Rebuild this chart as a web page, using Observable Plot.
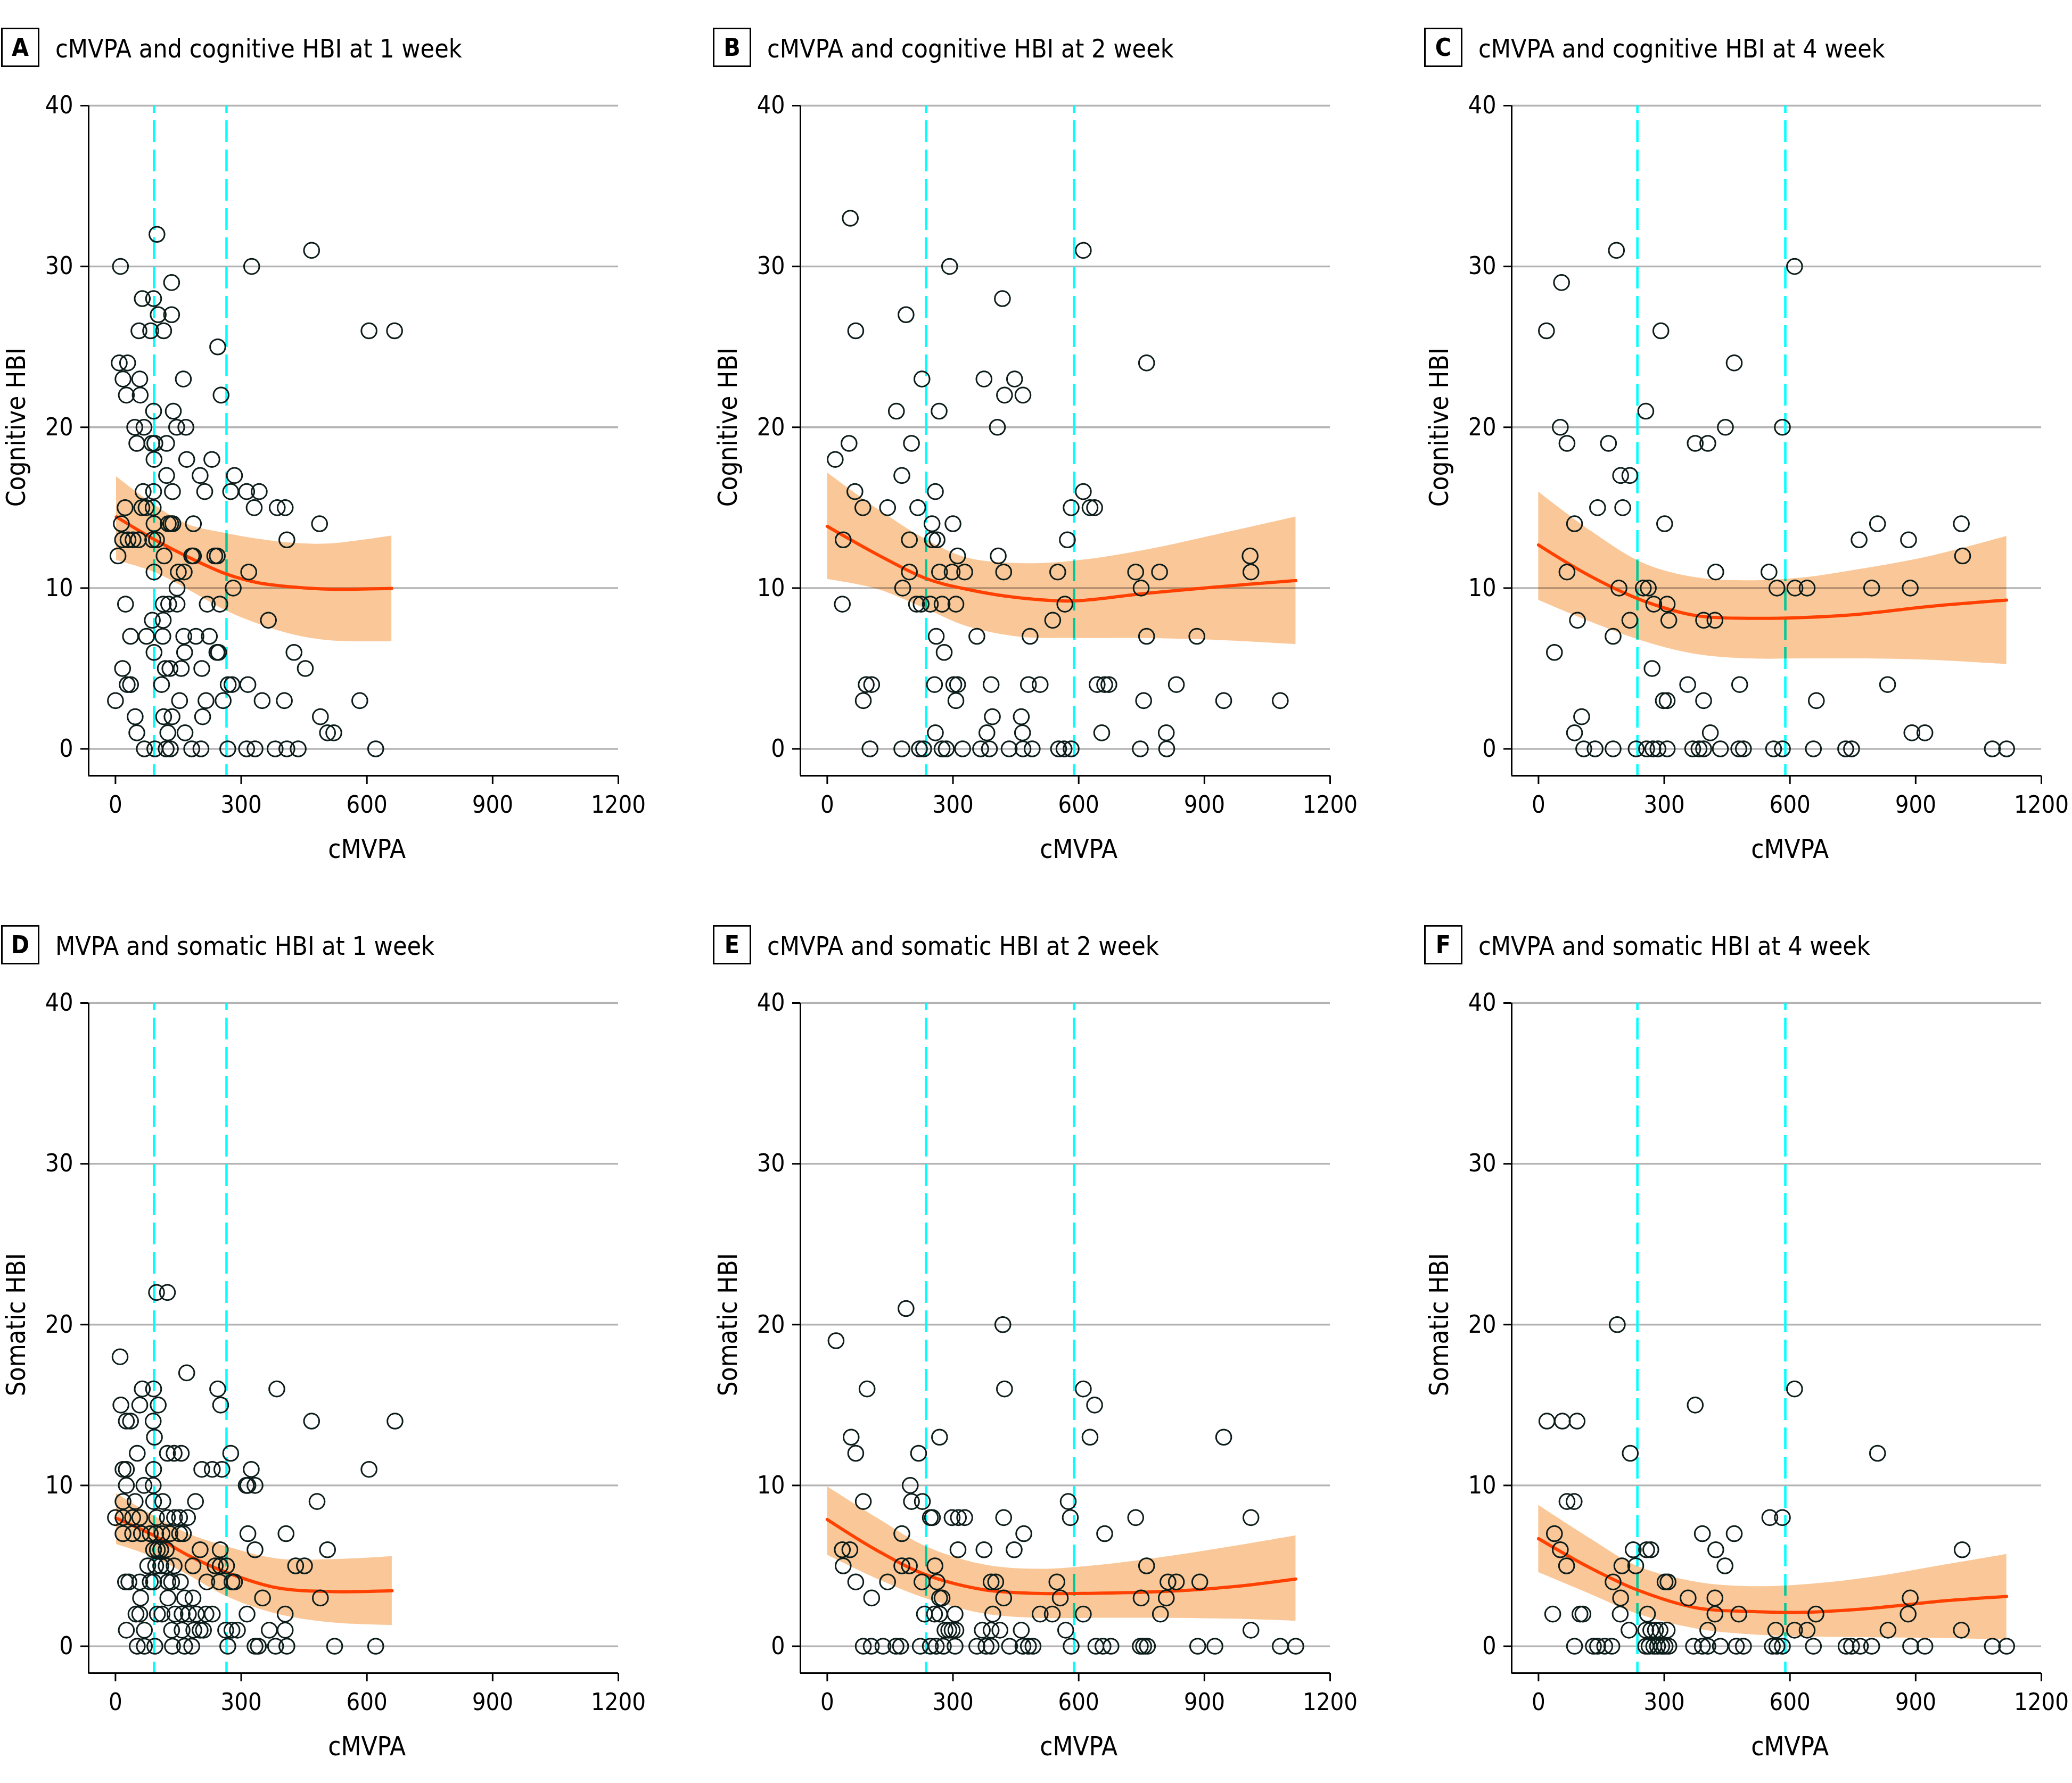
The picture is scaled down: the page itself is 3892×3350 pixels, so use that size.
<!DOCTYPE html>
<html><head><meta charset="utf-8">
<script src="https://cdn.jsdelivr.net/npm/d3@7"></script>
<script src="https://cdn.jsdelivr.net/npm/@observablehq/plot@0.6"></script>
<style>
html,body{margin:0;padding:0;background:#fff;overflow:hidden;}
#root{position:relative;width:3892px;height:3350px;overflow:hidden;background:#fff;
  font-family:"DejaVu Sans Condensed","DejaVu Sans",sans-serif;font-stretch:condensed;color:#000;}
.box{position:absolute;box-sizing:border-box;width:72px;height:74px;border:3px solid #000;font-weight:bold;font-size:46px;
  display:flex;align-items:center;justify-content:center;line-height:1;}
.ttl{position:absolute;font-size:48px;white-space:nowrap;line-height:1;}
.panel{position:absolute;}
svg{font-stretch:condensed;}
</style></head>
<body><div id="root"></div>
<script>
// ---------- text ----------
const letters = ["A", "B", "C", "D", "E", "F"];
const titles = [
  "cMVPA and cognitive HBI at 1 week",
  "cMVPA and cognitive HBI at 2 week",
  "cMVPA and cognitive HBI at 4 week",
  "MVPA and somatic HBI at 1 week",
  "cMVPA and somatic HBI at 2 week",
  "cMVPA and somatic HBI at 4 week"
];
const yLabels = ["Cognitive HBI", "Cognitive HBI", "Cognitive HBI", "Somatic HBI", "Somatic HBI", "Somatic HBI"];
const xLabel = "cMVPA";
const xTicks = [0, 300, 600, 900, 1200];
const yTicks = [0, 10, 20, 30, 40];

// ---------- cut points (dashed cyan lines) ----------
const cutsA = [92, 265];
const cutsB = [236, 589];
const cutsC = [236, 589];
const cutsD = [92, 265];
const cutsE = [236, 589];
const cutsF = [236, 589];

// ---------- points: [HBI, cMVPA, cMVPA, ...] ----------
const rowsA = [
  [32, 99], [31, 468], [30, 12, 325], [29, 134], [28, 64, 91], [27, 102, 134],
  [26, 56, 84, 115, 605, 666], [25, 244], [24, 9, 29], [23, 18, 58, 162], [22, 26, 59, 252],
  [21, 91, 138], [20, 46, 68, 146, 168], [19, 51, 87, 94, 122], [18, 92, 170, 230],
  [17, 122, 202, 284], [16, 66, 91, 136, 213, 275, 313, 343], [15, 23, 63, 73, 90, 331, 386, 405],
  [14, 14, 92, 126, 132, 137, 186, 487], [13, 17, 30, 42, 55, 89, 98, 409],
  [12, 6, 116, 182, 186, 237, 243], [11, 92, 150, 164, 318], [10, 147, 281],
  [9, 24, 114, 127, 147, 219, 249], [8, 88, 114, 365], [7, 36, 74, 113, 163, 192, 224],
  [6, 92, 165, 242, 246, 426], [5, 17, 119, 130, 157, 206, 453], [4, 28, 36, 110, 269, 278, 316],
  [3, 0, 153, 216, 257, 350, 403, 583], [2, 47, 115, 135, 208, 489], [1, 51, 125, 166, 506, 521],
  [0, 69, 94, 121, 131, 182, 204, 268, 313, 333, 381, 409, 436, 621]
];
const rowsB = [
  [33, 55], [31, 611], [30, 292], [28, 418], [27, 188], [26, 68], [24, 762],
  [23, 226, 374, 447], [22, 423, 467], [21, 165, 267], [20, 406], [19, 52, 201], [18, 19],
  [17, 178], [16, 66, 258, 611], [15, 85, 144, 216, 582, 627, 638], [14, 250, 300],
  [13, 38, 196, 251, 262, 573], [12, 311, 408, 1009],
  [11, 196, 268, 298, 328, 421, 550, 736, 793, 1011], [10, 180, 749],
  [9, 36, 213, 224, 246, 274, 307, 567], [8, 538], [7, 260, 357, 484, 762, 882], [6, 279],
  [4, 93, 106, 256, 302, 311, 391, 480, 508, 644, 662, 672, 833], [3, 86, 307, 755, 946, 1081],
  [2, 394, 463], [1, 258, 381, 466, 655, 809],
  [0, 102, 178, 220, 230, 274, 284, 323, 366, 387, 434, 467, 489, 552, 565, 582, 747, 810]
];
const rowsC = [
  [31, 186], [30, 611], [29, 55], [26, 19, 292], [24, 467], [21, 256], [20, 52, 446, 582],
  [19, 68, 167, 374, 404], [17, 196, 218], [15, 141, 201], [14, 86, 301, 809, 1009],
  [13, 765, 883], [12, 1012], [11, 68, 423, 550], [10, 192, 250, 262, 569, 612, 641, 795, 887],
  [9, 275, 307], [8, 93, 218, 311, 394, 421], [7, 178], [6, 38], [5, 271], [4, 356, 480, 833],
  [3, 298, 307, 394, 663], [2, 103], [1, 86, 410, 891, 922],
  [0, 108, 135, 178, 233, 258, 273, 285, 307, 368, 383, 394, 434, 478, 489, 561, 582, 656, 733, 747, 1083, 1117]
];
const rowsD = [
  [22, 98, 124], [18, 11], [17, 170], [16, 64, 91, 244, 385], [15, 13, 58, 102, 251],
  [14, 26, 36, 90, 468, 667], [13, 93], [12, 52, 124, 140, 157, 275],
  [11, 18, 26, 91, 206, 231, 254, 324, 605], [10, 26, 68, 90, 312, 316, 333],
  [9, 18, 47, 91, 113, 191, 481], [8, 0, 18, 41, 58, 98, 124, 141, 153, 172],
  [7, 18, 41, 62, 83, 96, 111, 130, 153, 162, 316, 407], [6, 91, 100, 108, 121, 202, 250, 333, 506],
  [5, 77, 96, 108, 121, 140, 185, 238, 250, 265, 430, 451],
  [4, 24, 32, 58, 83, 91, 125, 134, 155, 218, 248, 278, 284], [3, 60, 125, 165, 185, 351, 489],
  [2, 49, 58, 100, 111, 142, 159, 174, 193, 216, 231, 314, 405],
  [1, 26, 69, 134, 159, 187, 202, 210, 263, 278, 291, 367, 405],
  [0, 52, 69, 94, 136, 165, 182, 268, 333, 341, 382, 409, 523, 621]
];
const rowsE = [
  [21, 188], [20, 419], [19, 21], [16, 95, 423, 611], [15, 638], [13, 57, 268, 627, 946],
  [12, 68, 218], [10, 198], [9, 86, 201, 227, 575], [8, 246, 251, 298, 313, 328, 421, 580, 736, 1011],
  [7, 178, 469, 662], [6, 36, 54, 312, 374, 446], [5, 38, 178, 196, 257, 762],
  [4, 68, 144, 226, 262, 391, 402, 548, 813, 833, 889], [3, 106, 268, 274, 421, 556, 749, 809],
  [2, 232, 256, 268, 305, 395, 508, 537, 611, 795], [1, 281, 290, 298, 307, 370, 391, 412, 463, 569, 1011],
  [0, 86, 105, 133, 164, 175, 222, 246, 260, 277, 305, 357, 379, 391, 435, 467, 480, 491, 582, 641, 658, 677, 747, 755, 764, 884, 925, 1081, 1118]
];
const rowsF = [
  [20, 188], [16, 611], [15, 374], [14, 20, 57, 92], [12, 219, 809], [9, 68, 85], [8, 552, 582],
  [7, 38, 391, 467], [6, 52, 226, 258, 268, 423, 1011], [5, 67, 199, 232, 445], [4, 178, 302, 309],
  [3, 196, 357, 421, 887], [2, 34, 99, 106, 195, 260, 421, 478, 662, 882],
  [1, 216, 256, 268, 279, 290, 307, 404, 566, 611, 641, 834, 1009],
  [0, 86, 131, 141, 158, 175, 256, 264, 275, 284, 294, 302, 311, 370, 391, 404, 434, 472, 489, 558, 569, 582, 656, 734, 747, 768, 795, 888, 922, 1083, 1117]
];

// ---------- fitted curve with 95% band: [cMVPA, lower, fit, upper] ----------
const curveA = [[2, 11.73, 14.43, 16.94], [92, 11.0, 13.03, 15.19], [172, 9.92, 11.95, 13.97], [265, 8.58, 10.87, 13.4], [341, 7.77, 10.33, 13.05], [426, 7.09, 10.06, 12.8], [511, 6.74, 9.93, 12.76], [659, 6.69, 9.98, 13.25]];
const curveB = [[0, 10.55, 13.84, 17.18], [120, 9.93, 12.08, 14.92], [235, 8.71, 10.6, 13.03], [332, 7.63, 9.93, 11.89], [459, 6.96, 9.39, 11.54], [586, 6.88, 9.2, 11.68], [755, 6.88, 9.66, 12.35], [925, 6.77, 10.06, 13.3], [1118, 6.5, 10.47, 14.43]];
const curveC = [[0, 9.25, 12.68, 15.99], [124, 7.9, 10.74, 13.57], [251, 6.69, 9.2, 11.54], [378, 5.88, 8.28, 10.65], [505, 5.61, 8.12, 10.47], [632, 5.61, 8.17, 10.65], [759, 5.61, 8.36, 11.14], [929, 5.53, 8.85, 11.95], [1117, 5.26, 9.25, 13.22]];
const curveD = [[2, 6.34, 7.96, 9.5], [92, 5.53, 6.88, 8.1], [172, 4.45, 5.67, 7.02], [265, 3.1, 4.59, 6.21], [384, 2.02, 3.64, 5.45], [511, 1.48, 3.4, 5.4], [660, 1.3, 3.45, 5.59]];
const curveE = [[0, 5.67, 7.88, 9.93], [120, 4.18, 5.94, 7.96], [235, 2.97, 4.45, 6.21], [374, 2.02, 3.51, 5.07], [501, 1.75, 3.29, 4.8], [628, 1.75, 3.29, 4.99], [798, 1.75, 3.4, 5.53], [967, 1.7, 3.7, 6.21], [1118, 1.57, 4.18, 6.88]];
const curveF = [[0, 4.59, 6.69, 8.77], [124, 3.24, 4.86, 6.69], [235, 2.02, 3.51, 4.99], [378, 1.08, 2.38, 3.99], [505, 0.73, 2.16, 3.72], [632, 0.59, 2.11, 3.83], [802, 0.54, 2.38, 4.32], [971, 0.49, 2.83, 5.07], [1117, 0.4, 3.1, 5.72]];

// ---------- assembly ----------
const allRows = [rowsA, rowsB, rowsC, rowsD, rowsE, rowsF];
const allCurves = [curveA, curveB, curveC, curveD, curveE, curveF];
const allCuts = [cutsA, cutsB, cutsC, cutsD, cutsE, cutsF];

const root = document.getElementById("root");
const COLX = [0, 1337, 2673];
const ROWY = [0, 1686];
const XMIN = -64, YMIN = -1.67;

for (let i = 0; i < 6; i++) {
  const c = i % 3, r = Math.floor(i / 3);
  const left = COLX[c], top = ROWY[r];

  const box = document.createElement("div");
  box.className = "box";
  box.textContent = letters[i];
  box.style.left = (left + 2) + "px";
  box.style.top = (top + 52) + "px";
  root.appendChild(box);

  const t = document.createElement("div");
  t.className = "ttl";
  t.textContent = titles[i];
  t.style.left = (left + 104) + "px";
  t.style.top = (top + 67) + "px";
  root.appendChild(t);

  const pts = allRows[i].flatMap(([y, ...xs]) => xs.map(x => ({x, y})));
  const curve = allCurves[i].map(([x, lo, fit, hi]) => ({x, lo, fit, hi}));

  const svg = Plot.plot({
    width: 1336, height: 1500,
    marginLeft: 166, marginRight: 175, marginTop: 48, marginBottom: 193,
    x: {domain: [XMIN, 1200]},
    y: {domain: [YMIN, 40]},
    style: {fontFamily: '"DejaVu Sans Condensed","DejaVu Sans",sans-serif', fontSize: "46px", background: "none", overflow: "visible", color: "#000"},
    marks: [
      Plot.ruleY(yTicks, {stroke: "#b3b3b3", strokeWidth: 3.3}),
      Plot.ruleX(allCuts[i], {stroke: "#00ffff", strokeWidth: 4.5, strokeDasharray: "41,14", strokeDashoffset: 27}),
      Plot.areaY(curve, {x: "x", y1: "lo", y2: "hi", fill: "#fac898", curve: "catmull-rom", mixBlendMode: "multiply"}),
      Plot.line(curve, {x: "x", y: "fit", stroke: "#ff4000", strokeWidth: 6, curve: "catmull-rom"}),
      Plot.ruleX([XMIN], {stroke: "#000", strokeWidth: 3}),
      Plot.ruleY([YMIN], {stroke: "#000", strokeWidth: 3}),
      Plot.axisY(yTicks, {tickSize: 15, tickPadding: 14, fontSize: 46, strokeWidth: 3, label: null, tickFormat: d => String(d)}),
      Plot.axisX(xTicks, {tickSize: 16, tickPadding: 22, fontSize: 45, strokeWidth: 3, label: null, tickFormat: d => String(d)}),
      Plot.dot(pts, {x: "x", y: "y", r: 14.3, stroke: "#0c1c1a", strokeWidth: 3, fill: "none"}),
      Plot.text([yLabels[i]], {x: XMIN, y: 20, text: d => d, rotate: -90, dx: -134.7, fontSize: 49, lineAnchor: "middle"}),
      Plot.text([xLabel], {x: 600, frameAnchor: "bottom", text: d => d, dy: 139, fontSize: 49, lineAnchor: "middle"})
    ]
  });
  svg.classList.add("panel");
  svg.style.position = "absolute";
  svg.style.left = left + "px";
  svg.style.top = (top + 150) + "px";
  root.appendChild(svg);
}
</script>
</body></html>
